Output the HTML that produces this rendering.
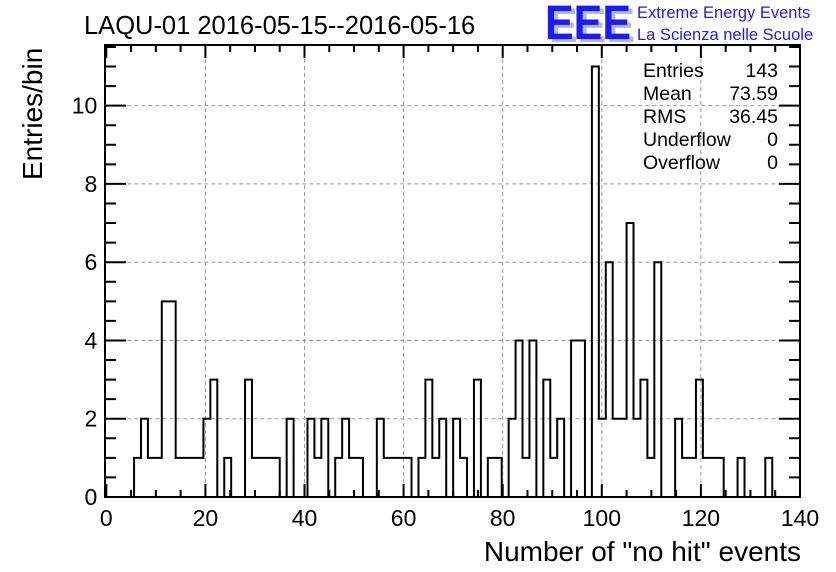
<!DOCTYPE html>
<html><head><meta charset="utf-8"><style>
body{margin:0;background:#fff;}
svg{display:block;font-family:"Liberation Sans",Arial,sans-serif;}
</style></head><body>
<svg id="c" width="836" height="572" viewBox="0 0 836 572">
<rect width="836" height="572" fill="#fff"/>
<text x="84" y="34" font-size="25.5">LAQU-01 2016-05-15--2016-05-16</text>
<g>
<text x="549" y="42" font-size="48" font-weight="bold" fill="#bbb" textLength="86" lengthAdjust="spacingAndGlyphs">EEE</text>
<text x="545" y="39" font-size="48" font-weight="bold" fill="#1a1aff" textLength="86" lengthAdjust="spacingAndGlyphs">EEE</text>
<text x="637" y="18" font-size="16.5" fill="#1a1aff">Extreme Energy Events</text>
<text x="637" y="40" font-size="16.5" fill="#1a1aff">La Scienza nelle Scuole</text>
</g>
<g id="grid"></g>
<g id="ticks"></g>
<path id="hist" fill="none" stroke="#000" stroke-width="2"/>
<rect x="105" y="45" width="695" height="452" fill="none" stroke="#000" stroke-width="2"/>
<g id="xl" font-size="23" text-anchor="middle"></g>
<g id="yl" font-size="23" text-anchor="end"></g>
<text x="801" y="561" font-size="28" text-anchor="end">Number of "no hit" events</text>
<text transform="translate(42,180) rotate(-90)" font-size="28">Entries/bin</text>
<g font-size="19.5">
<text x="643" y="77">Entries</text><text x="778" y="77" text-anchor="end">143</text>
<text x="643" y="100">Mean</text><text x="778" y="100" text-anchor="end">73.59</text>
<text x="643" y="123">RMS</text><text x="778" y="123" text-anchor="end">36.45</text>
<text x="643" y="146">Underflow</text><text x="778" y="146" text-anchor="end">0</text>
<text x="643" y="169">Overflow</text><text x="778" y="169" text-anchor="end">0</text>
</g>
</svg>
<script>
const binWidth = 1.4;
const counts = [0,0,0,0,1,2,1,1,5,5, 1,1,1,1,2,3,0,1,0,0, 3,1,1,1,1,0,2,0,0,2, 1,2,0,1,2,1,1,0,0,2,
 1,1,1,1,0,1,3,1,2,0, 2,1,0,3,0,1,1,0,2,4, 1,4,0,3,1,2,0,4,4,0, 11,2,6,2,2,7,2,3,1,6,
 0,0,2,1,1,3,1,1,1,0, 0,1,0,0,0,1,0,0,0,0];
const xTicks = [0,20,40,60,80,100,120,140];
const yTicks = [0,2,4,6,8,10];
const X0=106.3,X1=800,Y0=497,Y1=45,XMAX=140,YMAX=11.55;
const sx=v=>X0+(v/XMAX)*(X1-X0);
const sy=v=>Y0-(v/YMAX)*(Y0-Y1);
const NS='http://www.w3.org/2000/svg';
function mk(tag,attrs,parent){const e=document.createElementNS(NS,tag);for(const k in attrs)e.setAttribute(k,attrs[k]);parent.appendChild(e);return e;}
const grid=document.getElementById('grid'),ticks=document.getElementById('ticks');
xTicks.forEach(t=>{
 if(t>0&&t<XMAX){const l=mk('line',{x1:sx(t),x2:sx(t),y1:Y0,y2:Y1,stroke:'#999','stroke-dasharray':'4,3','stroke-width':1},grid);
 
 }
 const lb=mk('text',{x:sx(t),y:Y0+29},document.getElementById('xl'));lb.textContent=t;
 
 
});
yTicks.forEach(t=>{
 if(t>0){const l=mk('line',{x1:X0,x2:X1,y1:sy(t),y2:sy(t),stroke:'#999','stroke-dasharray':'4,3','stroke-width':1},grid);
 
 }
 const lb=mk('text',{x:X0-9,y:sy(t)+8},document.getElementById('yl'));lb.textContent=t;
 
 
});
let d='';
for(let v=0;v<=XMAX+0.01;v+=5){const L=(v%20===0)?13:7;
 d+=`M${sx(v)},${Y0}v${-L}M${sx(v)},${Y1}v${L}`;}
for(let v=0;v<=YMAX;v+=0.5){const L=(Math.abs(v%2)<0.01)?21:11;
 d+=`M105,${sy(v)}h${L}M${X1},${sy(v)}h${-L}`;}
mk('path',{d:d,stroke:'#000','stroke-width':2,fill:'none'},ticks);
let p=`M${sx(0)},${sy(0)}`;
counts.forEach((c,i)=>{p+=`L${sx(i*binWidth)},${sy(c)}L${sx((i+1)*binWidth)},${sy(c)}`;});
p+=`L${sx(counts.length*binWidth)},${sy(0)}`;
document.getElementById('hist').setAttribute('d',p);
</script>
</body></html>
